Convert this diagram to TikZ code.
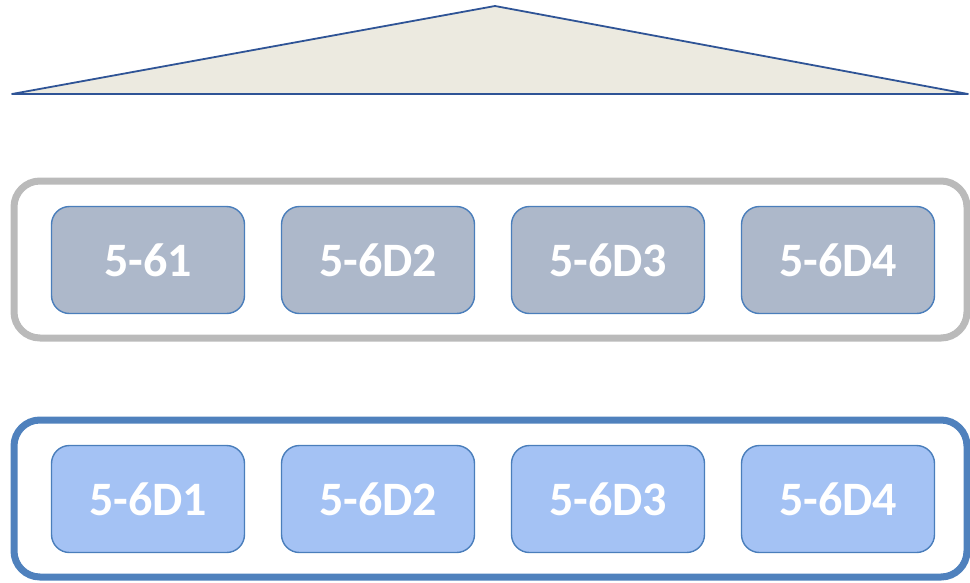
\documentclass[tikz,border=0pt]{standalone}
\usepackage{fontspec}
\setmainfont{Carlito}
\usepackage{tikz}
\usetikzlibrary{positioning}

\definecolor{roofline}{HTML}{2F5496}
\definecolor{rooffill}{HTML}{ECEAE0}
\definecolor{frameGray}{HTML}{BABABA}
\definecolor{frameBlue}{HTML}{4F81BD}
\definecolor{boxline}{HTML}{4A7EBB}
\definecolor{grayfill}{HTML}{ADB8CA}
\definecolor{bluefill}{HTML}{A4C2F4}

\begin{document}
\begin{tikzpicture}[x=1pt,y=-1pt,node distance=230pt,
  box node/.style={rectangle,rounded corners=18pt,draw=boxline,line width=1.4pt,
    minimum width=193pt,minimum height=107pt,text=white,
    font=\fontsize{48}{52}\selectfont\bfseries},
  gray box/.style={box node,fill=grayfill},
  blue box/.style={box node,fill=bluefill},
  frame/.style={line width=7pt,rounded corners=26pt}]

  \useasboundingbox (0,0) rectangle (970,582);

  % roof
  \draw[roofline,fill=rooffill,line width=1.8pt,line join=round] (12,94) -- (495,6) -- (968,94) -- cycle;

  % upper row
  \draw[frame,draw=frameGray] (14,181) rectangle (967,338);
  \node[gray box] (g1) at (148,260) {5-61};
  \node[gray box] (g2) [right of=g1] {5-6D2};
  \node[gray box] (g3) [right of=g2] {5-6D3};
  \node[gray box] (g4) [right of=g3] {5-6D4};

  % lower row
  \draw[frame,draw=frameBlue] (14,420) rectangle (967,577);
  \node[blue box] (b1) at (148,499) {5-6D1};
  \node[blue box] (b2) [right of=b1] {5-6D2};
  \node[blue box] (b3) [right of=b2] {5-6D3};
  \node[blue box] (b4) [right of=b3] {5-6D4};
\end{tikzpicture}
\end{document}
